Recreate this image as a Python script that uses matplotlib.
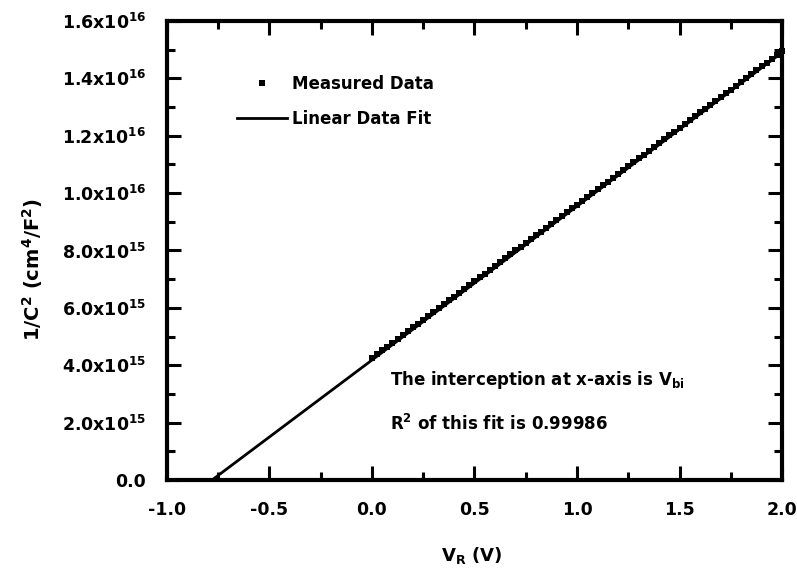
import matplotlib
matplotlib.use("Agg")
import matplotlib.pyplot as plt
from matplotlib.ticker import MultipleLocator

plt.rcParams["font.family"] = ["DejaVu Sans"]
plt.rcParams["font.weight"] = "bold"
plt.rcParams["axes.labelweight"] = "bold"
plt.rcParams["mathtext.fontset"] = "dejavusans"
plt.rcParams["mathtext.default"] = "bf"

# measured 1/C^2 (units of 1e15 cm^4/F^2) vs reverse bias V_R (V)
vr = [0.000, 0.025, 0.050, 0.075, 0.100, 0.125, 0.150, 0.175, 0.200, 0.225,
      0.250, 0.275, 0.300, 0.325, 0.350, 0.375, 0.400, 0.425, 0.450, 0.475,
      0.500, 0.525, 0.550, 0.575, 0.600, 0.625, 0.650, 0.675, 0.700, 0.725,
      0.750, 0.775, 0.800, 0.825, 0.850, 0.875, 0.900, 0.925, 0.950, 0.975,
      1.000, 1.025, 1.050, 1.075, 1.100, 1.125, 1.150, 1.175, 1.200, 1.225,
      1.250, 1.275, 1.300, 1.325, 1.350, 1.375, 1.400, 1.425, 1.450, 1.475,
      1.500, 1.525, 1.550, 1.575, 1.600, 1.625, 1.650, 1.675, 1.700, 1.725,
      1.750, 1.775, 1.800, 1.825, 1.850, 1.875, 1.900, 1.925, 1.950, 1.975,
      2.000]
inv_c2 = [4.25, 4.38, 4.52, 4.65, 4.79, 4.92, 5.05, 5.19, 5.32, 5.45,
          5.59, 5.72, 5.86, 5.99, 6.12, 6.26, 6.39, 6.52, 6.66, 6.79,
          6.93, 7.06, 7.19, 7.33, 7.46, 7.59, 7.73, 7.86, 8.00, 8.13,
          8.26, 8.40, 8.53, 8.66, 8.80, 8.93, 9.07, 9.20, 9.33, 9.47,
          9.60, 9.73, 9.87, 10.00, 10.14, 10.27, 10.40, 10.54, 10.67, 10.80,
          10.94, 11.07, 11.21, 11.34, 11.47, 11.61, 11.74, 11.87, 12.01, 12.14,
          12.28, 12.41, 12.54, 12.68, 12.81, 12.94, 13.08, 13.21, 13.35, 13.48,
          13.61, 13.75, 13.88, 14.01, 14.15, 14.28, 14.42, 14.55, 14.68, 14.82,
          14.95]

# linear fit end points
fit_x = [-0.78, 2.0]
fit_y = [0.0, 14.9]

y_ticks = [0, 2, 4, 6, 8, 10, 12, 14, 16]
y_labels = ["0.0", "2.0x10$^{15}$", "4.0x10$^{15}$", "6.0x10$^{15}$",
            "8.0x10$^{15}$", "1.0x10$^{16}$", "1.2x10$^{16}$",
            "1.4x10$^{16}$", "1.6x10$^{16}$"]
x_ticks = [-1.0, -0.5, 0.0, 0.5, 1.0, 1.5, 2.0]
x_labels = ["-1.0", "-0.5", "0.0", "0.5", "1.0", "1.5", "2.0"]

fig = plt.figure(figsize=(7.97, 5.78), dpi=100)
ax = fig.add_axes([0.2095, 0.1696, 0.9812 - 0.2095, 0.9637 - 0.1696])

ax.plot(vr, inv_c2, "s", color="black", markersize=4.6, markeredgewidth=0,
        label="Measured Data", clip_on=False)
ax.plot(fit_x, fit_y, "-", color="black", linewidth=2.0, label="Linear Data Fit")

ax.set_xlim(-1.0, 2.0)
ax.set_ylim(0, 16)
ax.set_xticks(x_ticks)
ax.set_xticklabels(x_labels)
ax.set_yticks(y_ticks)
ax.set_yticklabels(y_labels)
ax.xaxis.set_minor_locator(MultipleLocator(0.25))
ax.yaxis.set_minor_locator(MultipleLocator(1))

for s in ax.spines.values():
    s.set_linewidth(3)
ax.tick_params(which="both", direction="in", top=True, right=True,
               labelsize=12.5, pad=15, width=2.2)
ax.tick_params(which="major", length=10)
ax.tick_params(which="minor", length=6)

ax.set_xlabel("V$_{R}$ (V)", fontsize=13)
ax.set_ylabel("1/C$^{2}$ (cm$^{4}$/F$^{2}$)", fontsize=14)
ax.xaxis.set_label_coords(0.496, -0.142)
ax.yaxis.set_label_coords(-0.198, 0.4575)

ax.text(0.088, 3.48, "The interception at x-axis is V$_{bi}$", fontsize=12,
        va="center", ha="left")
ax.text(0.088, 1.95, "R$^{2}$ of this fit is 0.99986", fontsize=12,
        va="center", ha="left")

ax.legend(loc="upper left", bbox_to_anchor=(237 / 797, 1 - 75 / 578),
          bbox_transform=fig.transFigure, frameon=False, fontsize=12,
          handlelength=3.0, handletextpad=0.3, labelspacing=1.0,
          borderpad=0, borderaxespad=0, markerscale=1.0)

fig.savefig("out.png", dpi=100)
